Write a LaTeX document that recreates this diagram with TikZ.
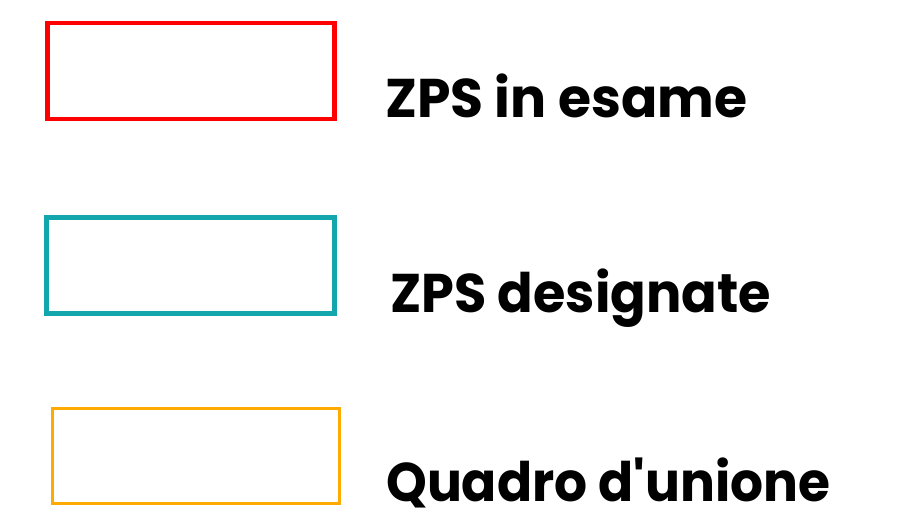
\documentclass[tikz,border=0pt]{standalone}
\usepackage{fontspec}
\setmainfont{Poppins}
\definecolor{zred}{HTML}{FF0000}
\definecolor{zteal}{HTML}{14A6AD}
\definecolor{zorange}{HTML}{FFAA00}
\begin{document}
\begin{tikzpicture}[x=1pt,y=-1pt,
  legbox/.style={draw, line width=#1},
  legtext/.style={anchor=base west, inner sep=0pt, text depth=0pt, font=\fontsize{54.5}{60}\selectfont\bfseries}]
\useasboundingbox (0,0) rectangle (921,515);
\draw[legbox=4.7pt, zred] (47.5,23) rectangle (334.5,119);
\draw[legbox=5pt, zteal] (46.5,217.5) rectangle (334.2,313);
\draw[legbox=3pt, zorange] (52.5,408.5) rectangle (339,503.5);
\node[legtext] (t1) at (385,117.3) {\scalebox{0.983}[1]{ZPS in esame}};
\node[legtext] (t2) at (390,312.3) {\scalebox{0.964}[1]{ZPS designate}};
\node[legtext] (t3) at (386,501.7) {\scalebox{0.951}[1]{Quadro d\textquotesingle unione}};
\end{tikzpicture}
\end{document}
